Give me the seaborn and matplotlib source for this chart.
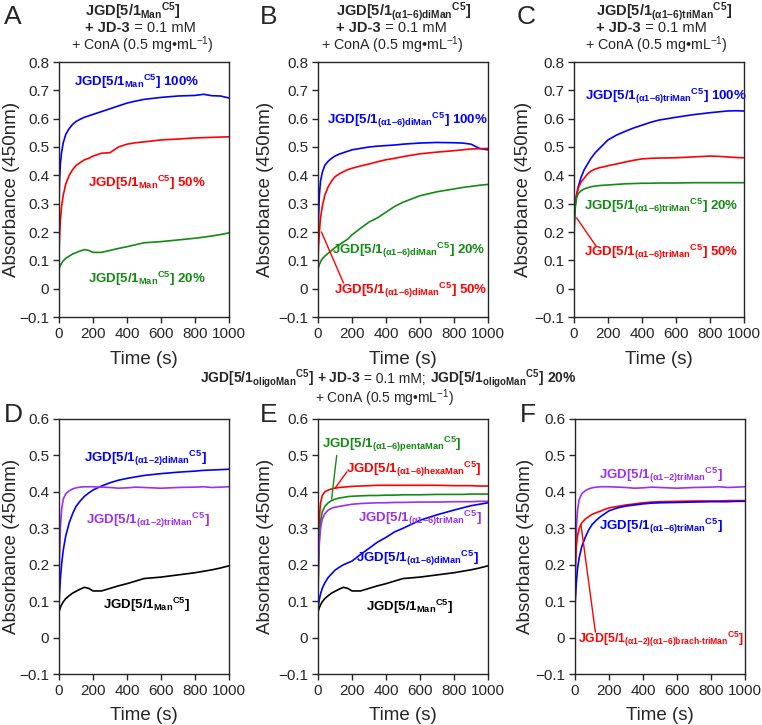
import matplotlib
matplotlib.use('Agg')
import matplotlib.pyplot as plt
from matplotlib.ticker import FuncFormatter, MultipleLocator
import seaborn as sns

# ---- data ----
time_s = [0, 3, 8, 15, 25, 40, 60, 80, 100, 125, 150, 175, 200, 250, 300,
          350, 400, 450, 500, 600, 700, 800, 850, 900, 950, 1000]

# panel A : JGD[5/1 Man]
man_100 = [0.30, 0.38, 0.44, 0.48, 0.515, 0.545, 0.565, 0.58, 0.59, 0.598, 0.605, 0.61, 0.615,
           0.625, 0.635, 0.645, 0.655, 0.662, 0.668, 0.675, 0.68, 0.682, 0.686, 0.681, 0.68, 0.673]
man_50 = [0.12, 0.18, 0.24, 0.29, 0.33, 0.37, 0.40, 0.42, 0.435, 0.445, 0.455, 0.46, 0.468,
          0.478, 0.48, 0.50, 0.51, 0.515, 0.518, 0.525, 0.528, 0.532, 0.533, 0.534, 0.535, 0.536]
man_20 = [0.07, 0.075, 0.082, 0.09, 0.098, 0.107, 0.115, 0.122, 0.127, 0.133, 0.138, 0.135, 0.128,
          0.128, 0.135, 0.142, 0.148, 0.155, 0.162, 0.166, 0.172, 0.178, 0.182, 0.186, 0.191, 0.197]

# panel B : (a1-6)diMan
dimanb_100 = [0.13, 0.25, 0.33, 0.38, 0.41, 0.435, 0.45, 0.46, 0.468, 0.475, 0.48, 0.485, 0.49,
              0.495, 0.50, 0.503, 0.505, 0.507, 0.51, 0.514, 0.516, 0.515, 0.514, 0.51, 0.495, 0.49]
dimanb_50 = [0.10, 0.15, 0.20, 0.25, 0.29, 0.33, 0.36, 0.38, 0.395, 0.405, 0.413, 0.42, 0.425,
             0.433, 0.44, 0.448, 0.455, 0.46, 0.466, 0.476, 0.482, 0.487, 0.49, 0.493, 0.494, 0.495]
dimanb_20 = [0.07, 0.075, 0.085, 0.095, 0.105, 0.115, 0.125, 0.135, 0.145, 0.155, 0.165, 0.175, 0.19,
             0.213, 0.235, 0.25, 0.27, 0.29, 0.305, 0.328, 0.342, 0.352, 0.357, 0.361, 0.365, 0.368]

# panel C : (a1-6)triMan
trimanb_100 = [0.20, 0.26, 0.30, 0.33, 0.36, 0.39, 0.42, 0.44, 0.46, 0.48, 0.495, 0.51, 0.525,
               0.542, 0.555, 0.567, 0.577, 0.587, 0.595, 0.605, 0.614, 0.621, 0.624, 0.627, 0.628, 0.627]
trimanb_50 = [0.20, 0.26, 0.30, 0.33, 0.355, 0.375, 0.39, 0.405, 0.415, 0.422, 0.427, 0.43, 0.434,
              0.44, 0.447, 0.453, 0.458, 0.46, 0.461, 0.462, 0.465, 0.468, 0.467, 0.465, 0.463, 0.462]
trimanb_20 = [0.17, 0.24, 0.29, 0.32, 0.335, 0.345, 0.352, 0.356, 0.36, 0.362, 0.364, 0.365, 0.366,
              0.368, 0.37, 0.371, 0.372, 0.372, 0.373, 0.373, 0.374, 0.374, 0.374, 0.374, 0.374, 0.374]

# panels D-F : oligoMan 20 %
diman12 = [0.08, 0.12, 0.16, 0.20, 0.24, 0.28, 0.315, 0.34, 0.36, 0.375, 0.388, 0.397, 0.405,
           0.416, 0.425, 0.432, 0.437, 0.441, 0.445, 0.45, 0.454, 0.457, 0.459, 0.46, 0.461, 0.462]
triman12 = [0.13, 0.22, 0.30, 0.35, 0.38, 0.395, 0.403, 0.408, 0.411, 0.413, 0.414, 0.414, 0.414,
            0.413, 0.412, 0.41, 0.411, 0.413, 0.412, 0.41, 0.412, 0.413, 0.414, 0.412, 0.413, 0.414]
hexaman16 = [0.12, 0.25, 0.33, 0.37, 0.39, 0.40, 0.405, 0.408, 0.41, 0.412, 0.413, 0.414, 0.415,
             0.416, 0.417, 0.418, 0.418, 0.418, 0.418, 0.418, 0.418, 0.417, 0.417, 0.417, 0.416, 0.416]
pentaman16 = [0.10, 0.20, 0.28, 0.32, 0.345, 0.36, 0.37, 0.376, 0.38, 0.383, 0.385, 0.387, 0.388,
              0.389, 0.39, 0.39, 0.391, 0.391, 0.392, 0.392, 0.393, 0.393, 0.393, 0.394, 0.394, 0.394]
triman16 = [0.13, 0.20, 0.26, 0.30, 0.325, 0.34, 0.35, 0.355, 0.358, 0.36, 0.362, 0.364, 0.366,
            0.368, 0.369, 0.37, 0.37, 0.371, 0.371, 0.372, 0.372, 0.373, 0.373, 0.373, 0.374, 0.374]
diman16 = [0.08, 0.09, 0.105, 0.12, 0.135, 0.15, 0.165, 0.175, 0.185, 0.193, 0.20, 0.205, 0.21,
           0.228, 0.245, 0.262, 0.275, 0.29, 0.30, 0.322, 0.337, 0.35, 0.356, 0.362, 0.366, 0.37]
branch_triman = [0.12, 0.20, 0.25, 0.28, 0.30, 0.315, 0.325, 0.332, 0.338, 0.343, 0.347, 0.352, 0.356,
                 0.36, 0.364, 0.367, 0.37, 0.372, 0.373, 0.374, 0.375, 0.375, 0.375, 0.376, 0.376, 0.376]
triman16_f = [0.08, 0.11, 0.15, 0.19, 0.22, 0.25, 0.275, 0.295, 0.31, 0.322, 0.332, 0.34, 0.348,
              0.356, 0.361, 0.364, 0.367, 0.369, 0.37, 0.371, 0.372, 0.373, 0.373, 0.373, 0.374, 0.374]

BLUE, RED, GREEN, PURPLE, BLACK = '#0000ff', '#ff0000', '#138a13', '#9a30f0', '#000000'

sns.set_style('ticks')
plt.rcParams['font.family'] = ['Liberation Sans', 'DejaVu Sans']
plt.rcParams['mathtext.fontset'] = 'custom'
plt.rcParams['mathtext.rm'] = 'Liberation Sans'
plt.rcParams['mathtext.bf'] = 'Liberation Sans:bold'
plt.rcParams['mathtext.it'] = 'Liberation Sans:italic'

W, H = 762, 725
fig = plt.figure(figsize=(W / 100, H / 100), dpi=100)


def sub(s, sup='C5'):
    return '${}_{\\mathbf{%s}}{}^{\\mathbf{%s}}$' % (s, sup)


def yfmt(v, pos):
    if abs(v) < 1e-9:
        return '0'
    return f'{v:.1f}'.replace('-', '\u2212')


def make_axes(left, top, ymax, ylab_dx):
    ax = fig.add_axes([left / W, 1 - (top + 255) / H, 170 / W, 255 / H])
    ax.set_xlim(0, 1000)
    ax.set_ylim(-0.1, ymax)
    ax.xaxis.set_major_locator(MultipleLocator(200))
    ax.yaxis.set_major_locator(MultipleLocator(0.1))
    ax.yaxis.set_major_formatter(FuncFormatter(yfmt))
    ax.tick_params(labelsize=11, length=4, width=1, direction='out', pad=3)
    for sp in ax.spines.values():
        sp.set_linewidth(1)
        sp.set_visible(True)
    ax.set_xlabel('Time (s)', fontsize=13.5, va='center')
    ax.xaxis.set_label_coords(0.5, -42 / 255)
    ax.set_ylabel('Absorbance (450nm)', fontsize=13.5, va='center')
    ax.yaxis.set_label_coords(-ylab_dx / 170, 0.5)
    return ax


def draw(ax, values, color):
    sns.lineplot(x=time_s, y=values, color=color, linewidth=1.2, ax=ax)


def label(ax, x, y, text, color, ha='right', size=9.5):
    ax.text(x, y, text, color=color, fontsize=size, fontweight='bold', ha=ha, va='center')


def leader(ax, p0, p1, color):
    ax.plot([p0[0], p1[0]], [p0[1], p1[1]], color=color, linewidth=1)


def rich_line(x, y, pieces, ha='left', size=10):
    # pieces of text in a row sharing one baseline; x,y in pixels
    fig.canvas.draw()
    r = fig.canvas.get_renderer()
    arts = []
    for txt, wt in pieces:
        arts.append(fig.text(0, 1 - y / H, txt, fontsize=size, fontweight=wt, va='baseline', ha='left'))
    widths = [a.get_window_extent(r).width for a in arts]
    x0 = x - sum(widths) / 2 if ha == 'center' else x
    for a, w in zip(arts, widths):
        a.set_x(x0 / W)
        x0 += w


# ---- top row ----
axA = make_axes(59, 62, 0.8, 47)
draw(axA, man_100, BLUE)
draw(axA, man_50, RED)
draw(axA, man_20, GREEN)
label(axA, 824, 0.73, 'JGD[5/1' + sub('Man') + '] 100%', BLUE)
label(axA, 865, 0.372, 'JGD[5/1' + sub('Man') + '] 50%', RED)
label(axA, 865, 0.036, 'JGD[5/1' + sub('Man') + '] 20%', GREEN)

axB = make_axes(318, 62, 0.8, 53)
draw(axB, dimanb_100, BLUE)
draw(axB, dimanb_50, RED)
draw(axB, dimanb_20, GREEN)
label(axB, 1000, 0.595, 'JGD[5/1' + sub('(α1–6)diMan') + '] 100%', BLUE)
label(axB, 982, 0.136, 'JGD[5/1' + sub('(α1–6)diMan') + '] 20%', GREEN)
label(axB, 994, -0.005, 'JGD[5/1' + sub('(α1–6)diMan') + '] 50%', RED)
leader(axB, (20, 0.2), (150, 0.02), RED)

axC = make_axes(574, 62, 0.8, 50)
draw(axC, trimanb_100, BLUE)
draw(axC, trimanb_50, RED)
draw(axC, trimanb_20, GREEN)
label(axC, 1016, 0.678, 'JGD[5/1' + sub('(α1–6)triMan') + '] 100%', BLUE)
label(axC, 965, 0.289, 'JGD[5/1' + sub('(α1–6)triMan') + '] 20%', GREEN)
label(axC, 965, 0.127, 'JGD[5/1' + sub('(α1–6)triMan') + '] 50%', RED)
leader(axC, (15, 0.25), (130, 0.15), RED)

# ---- bottom row ----
axD = make_axes(59, 419, 0.6, 47)
draw(axD, diman12, BLUE)
draw(axD, triman12, PURPLE)
draw(axD, man_20, BLACK)
label(axD, 871, 0.492, 'JGD[5/1' + sub('(α1–2)diMan') + ']', BLUE)
label(axD, 888, 0.323, 'JGD[5/1' + sub('(α1–2)triMan') + ']', PURPLE)
label(axD, 771, 0.089, 'JGD[5/1' + sub('Man') + ']', BLACK)

axE = make_axes(318, 419, 0.6, 53)
draw(axE, hexaman16, RED)
draw(axE, pentaman16, GREEN)
draw(axE, triman16, PURPLE)
draw(axE, diman16, BLUE)
draw(axE, man_20, BLACK)
label(axE, 840, 0.529, 'JGD[5/1' + sub('(α1–6)pentaMan') + ']', GREEN)
label(axE, 963, 0.462, 'JGD[5/1' + sub('(α1–6)hexaMan') + ']', RED)
label(axE, 963, 0.327, 'JGD[5/1' + sub('(α1–6)triMan') + ']', PURPLE)
label(axE, 947, 0.218, 'JGD[5/1' + sub('(α1–6)diMan') + ']', BLUE)
label(axE, 793, 0.085, 'JGD[5/1' + sub('Man') + ']', BLACK)
leader(axE, (110, 0.5), (80, 0.38), GREEN)
leader(axE, (170, 0.455), (100, 0.41), RED)

axF = make_axes(575, 419, 0.6, 50)
draw(axF, triman12, PURPLE)
draw(axF, branch_triman, RED)
draw(axF, triman16_f, BLUE)
label(axF, 872, 0.446, 'JGD[5/1' + sub('(α1–2)triMan') + ']', PURPLE)
label(axF, 872, 0.304, 'JGD[5/1' + sub('(α1–6)triMan') + ']', BLUE)
label(axF, 995, -0.005, 'JGD[5/1' + sub('(α1–2)(α1–6)brach\u2010triMan') + ']', RED, size=8.8)
leader(axF, (35, 0.31), (120, 0.015), RED)

# ---- headers ----
heads = [(85, 142.5, 'Man'), (336, 392.5, '(α1–6)diMan'), (596, 656, '(α1–6)triMan')]
for left, centre, name in heads:
    rich_line(left, 15.5, [('JGD[5/1' + sub(name) + ']', 'bold')], size=10.5)
    rich_line(left, 32.5, [('+ JD-3', 'bold'), (' = 0.1 mM', 'normal')], size=10.5)
    rich_line(centre, 50.5, [('+ ConA (0.5 mg•mL${}^{-1}$)', 'normal')], ha='center', size=10.3)

rich_line(388, 383, [('JGD[5/1' + sub('oligoMan') + '] + JD-3', 'bold'),
                     (' = 0.1 mM; ', 'normal'),
                     ('JGD[5/1' + sub('oligoMan') + '] 20%', 'bold')], ha='center')
rich_line(385, 403, [('+ ConA (0.5 mg•mL${}^{-1}$)', 'normal')], ha='center')

for letter, x, y in [('A', 4, 5), ('B', 260, 5), ('C', 517, 5),
                     ('D', 4, 403), ('E', 260, 403), ('F', 520, 403)]:
    fig.text(x / W, 1 - y / H, letter, fontsize=19, va='top', ha='left')

fig.savefig('out.png', dpi=100)
